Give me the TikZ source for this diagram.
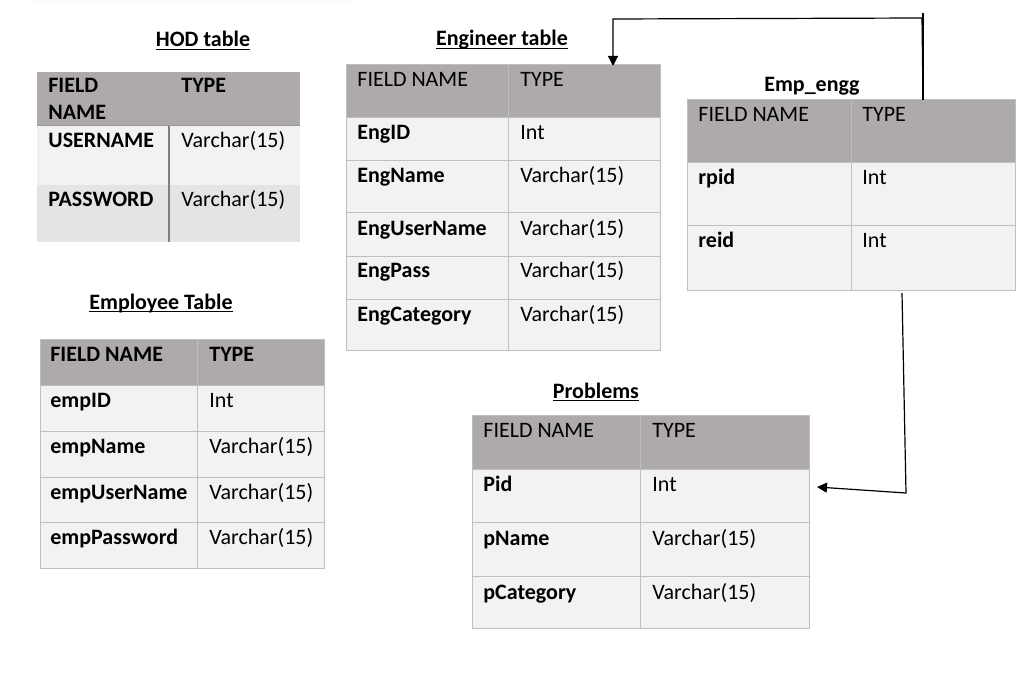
\documentclass[tikz,border=0pt]{standalone}
\usepackage{fontspec}
\setmainfont{Carlito}
\usetikzlibrary{arrows.meta}
\definecolor{tHead}{HTML}{AEAAAA}
\definecolor{tCell}{HTML}{F2F2F2}
\definecolor{tCellB}{HTML}{E4E4E4}
\definecolor{tGrid}{HTML}{BFBFBF}
\definecolor{tRule}{HTML}{7F7F7F}
\tikzset{
    ttl/.style={font=\fontsize{11}{13}\selectfont\bfseries, inner sep=0pt, anchor=base},
    fld/.style={font=\fontsize{11}{13}\selectfont\bfseries, inner sep=0pt, anchor=base west},
    typ/.style={font=\fontsize{11}{13}\selectfont, inner sep=0pt, anchor=base west},
    tline/.style={draw=tGrid, line width=0.5pt},
    uline/.style={line width=0.55pt},
    link/.style={line width=0.6pt, -{Triangle[length=5pt,width=5pt]}}
}

\begin{document}
\begin{tikzpicture}[x=0.5pt,y=-0.5pt]
\useasboundingbox (0,0) rectangle (1027,679);
\fill[black!2] (30,0) rectangle (352,3);

% HOD table
\node[ttl] (hodT) at (203,47) {HOD table\ };
\draw[uline] ([yshift=-1.4pt]hodT.base west) -- ([yshift=-1.4pt]hodT.base east);
\fill[tHead] (37,72) rectangle (300,126);
\fill[tCell] (37,126) rectangle (300,185);
\fill[tCellB] (37,185) rectangle (300,242);
\draw[tRule!80, line width=0.5pt] (37,126) -- (300,126);
\draw[tRule, line width=0.6pt] (169,126) -- (169,242);
\node[fld] (hodH1) at (48,93) {FIELD};
\node[fld] (hodH1b) at (48,120) {NAME};
\node[fld] (hodH2) at (181,93) {TYPE};
\node[fld] (hodF1) at (48,148) {USERNAME};
\node[typ] (hodT1) at (181,148) {Varchar(15)};
\node[fld] (hodF2) at (48,206) {PASSWORD};
\node[typ] (hodT2) at (181,206) {Varchar(15)};

% Employee table
\node[ttl] (empT) at (161,309) {Employee Table};
\draw[uline] ([yshift=-1.4pt]empT.base west) -- ([yshift=-1.4pt]empT.base east);
\fill[tHead] (40,339) rectangle (324,385);
\fill[tCell] (40,385) rectangle (324,568);
\draw[tline] (40,339) rectangle (324,568);
\draw[tline] (197,339) -- (197,568);
\draw[tline] (40,385) -- (324,385) (40,431) -- (324,431) (40,477) -- (324,477) (40,522) -- (324,522);
\node[fld] (empH1) at (50,361) {FIELD NAME};
\node[fld] (empH2) at (209,361) {TYPE};
\node[fld] (empF1) at (50,407) {empID};
\node[typ] (empT1) at (209,407) {Int};
\node[fld] (empF2) at (50,453) {empName};
\node[typ] (empT2) at (209,453) {Varchar(15)};
\node[fld] (empF3) at (50,499) {empUserName};
\node[typ] (empT3) at (209,499) {Varchar(15)};
\node[fld] (empF4) at (50,544) {empPassword};
\node[typ] (empT4) at (209,544) {Varchar(15)};

% Engineer table
\node[ttl] (engT) at (502,46) {Engineer table};
\draw[uline] ([yshift=-1.2pt]engT.base west) -- ([yshift=-1.2pt]engT.base east);
\fill[tHead] (346,65) rectangle (660,118);
\fill[tCell] (346,118) rectangle (660,350);
\draw[tline] (346,65) rectangle (660,350);
\draw[tline] (508,65) -- (508,350);
\draw[tline] (346,118) -- (660,118) (346,161) -- (660,161) (346,213) -- (660,213) (346,256) -- (660,256) (346,299) -- (660,299);
\node[typ] (engH1) at (357,87) {FIELD NAME};
\node[typ] (engH2) at (520,87) {TYPE};
\node[fld] (engF1) at (357,140) {EngID};
\node[typ] (engT1) at (520,140) {Int};
\node[fld] (engF2) at (357,183) {EngName};
\node[typ] (engT2) at (520,183) {Varchar(15)};
\node[fld] (engF3) at (357,235) {EngUserName};
\node[typ] (engT3) at (520,235) {Varchar(15)};
\node[fld] (engF4) at (357,278) {EngPass};
\node[typ] (engT4) at (520,278) {Varchar(15)};
\node[fld] (engF5) at (357,321) {EngCategory};
\node[typ] (engT5) at (520,321) {Varchar(15)};
\coordinate (engTop) at (613,66);

% Emp_engg table
\node[ttl] (eeT) at (812,92) {Emp\_engg};
\fill[tHead] (687,100) rectangle (1015,163);
\fill[tCell] (687,163) rectangle (1015,290);
\draw[tline] (687,100) rectangle (1015,290);
\draw[tline] (851,100) -- (851,290);
\draw[tline] (687,163) -- (1015,163) (687,226) -- (1015,226);
\node[typ] (eeH1) at (698,122) {FIELD NAME};
\node[typ] (eeH2) at (862,122) {TYPE};
\node[fld] (eeF1) at (698,185) {rpid};
\node[typ] (eeT1) at (862,185) {Int};
\node[fld] (eeF2) at (698,248) {reid};
\node[typ] (eeT2) at (862,248) {Int};
\coordinate (eeTop) at (923,100);
\coordinate (eeBot) at (902,293);

% Problems table
\node[ttl] (prT) at (596,398) {Problems};
\draw[uline] ([yshift=-1.4pt]prT.base west) -- ([yshift=-1.4pt]prT.base east);
\fill[tHead] (472,415) rectangle (809,469);
\fill[tCell] (472,469) rectangle (809,628);
\draw[tline] (472,415) rectangle (809,628);
\draw[tline] (640,415) -- (640,628);
\draw[tline] (472,469) -- (809,469) (472,522) -- (809,522) (472,576) -- (809,576);
\node[typ] (prH1) at (483,437) {FIELD NAME};
\node[typ] (prH2) at (652,437) {TYPE};
\node[fld] (prF1) at (483,491) {Pid};
\node[typ] (prT1) at (652,491) {Int};
\node[fld] (prF2) at (483,545) {pName};
\node[typ] (prT2) at (652,545) {Varchar(15)};
\node[fld] (prF3) at (483,599) {pCategory};
\node[typ] (prT3) at (652,599) {Varchar(15)};
\coordinate (prPid) at (817,487);

% links
\draw[line width=0.6pt] (eeTop) -- ++(0,-87);
\draw[link] (eeTop) -- ++(-1,-82) -- ++(-309,1) -- (engTop);
\draw[link] (eeBot) -- ++(4,200) -- (prPid);
\end{tikzpicture}
\end{document}
